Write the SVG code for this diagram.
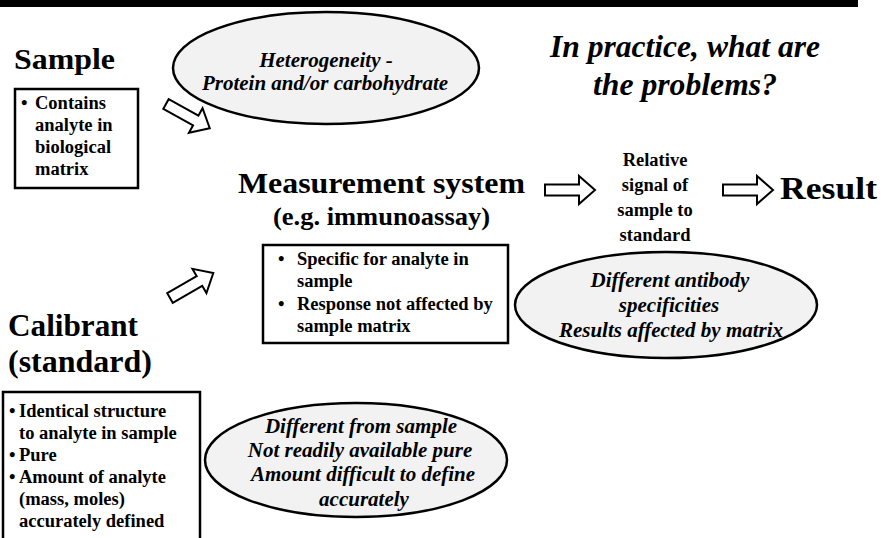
<svg xmlns="http://www.w3.org/2000/svg" width="883" height="538" viewBox="0 0 883 538">
<style>
text{font-family:'Liberation Serif',serif;font-weight:bold;fill:#000}
.b{font-size:18.5px}
.i{font-style:italic;font-size:21px;text-anchor:middle}
.m{text-anchor:middle}
.box{fill:#fff;stroke:#000;stroke-width:2.5}
.ell{fill:#f2f2f2;stroke:#000;stroke-width:2.5}
.arr{fill:#fff;stroke:#000;stroke-width:2}
</style>
<rect x="0" y="0" width="883" height="538" fill="#fff"/>
<rect x="0" y="0" width="858" height="7" fill="#000"/>

<g id="sample">
<text x="14" y="69" font-size="30" textLength="101" lengthAdjust="spacingAndGlyphs">Sample</text>
<rect class="box" x="15" y="89" width="123" height="99"/>
<text class="b" x="21" y="109">•</text>
<text class="b" x="35" y="109">Contains</text>
<text class="b" x="35" y="131">analyte in</text>
<text class="b" x="35" y="153">biological</text>
<text class="b" x="35" y="175">matrix</text>
</g>

<g id="heterogeneity">
<ellipse class="ell" cx="326" cy="68" rx="153" ry="56"/>
<text class="i" x="326" y="67">Heterogeneity -</text>
<text class="i" x="325" y="90">Protein and/or carbohydrate</text>
</g>

<g id="question">
<text class="m" x="685" y="57" font-size="31" font-style="italic" textLength="270" lengthAdjust="spacingAndGlyphs">In practice, what are</text>
<text class="m" x="685" y="95" font-size="31" font-style="italic" textLength="184" lengthAdjust="spacingAndGlyphs">the problems?</text>
</g>

<g id="measurement">
<text x="238" y="193" font-size="30" textLength="287" lengthAdjust="spacingAndGlyphs">Measurement system</text>
<text x="273" y="225" font-size="25" textLength="217" lengthAdjust="spacingAndGlyphs">(e.g. immunoassay)</text>
<rect class="box" x="263" y="245" width="245" height="98"/>
<text class="b" x="278" y="265">•</text>
<text class="b" x="297" y="265">Specific for analyte in</text>
<text class="b" x="297" y="287">sample</text>
<text class="b" x="278" y="310">•</text>
<text class="b" x="297" y="310">Response not affected by</text>
<text class="b" x="297" y="332">sample matrix</text>
</g>

<g id="relative">
<text class="b m" x="655" y="166">Relative</text>
<text class="b m" x="655" y="191">signal of</text>
<text class="b m" x="655" y="216">sample to</text>
<text class="b m" x="655" y="241">standard</text>
</g>

<g id="result">
<text x="780" y="199" font-size="31" textLength="97" lengthAdjust="spacingAndGlyphs">Result</text>
</g>

<g id="antibody">
<ellipse class="ell" cx="666" cy="305" rx="151" ry="53"/>
<text class="i" x="670" y="287">Different antibody</text>
<text class="i" x="669" y="312">specificities</text>
<text class="i" x="671" y="337">Results affected by matrix</text>
</g>

<g id="calibrant">
<text x="8" y="336" font-size="31" textLength="130" lengthAdjust="spacingAndGlyphs">Calibrant</text>
<text x="8" y="372" font-size="31" textLength="144" lengthAdjust="spacingAndGlyphs">(standard)</text>
<rect class="box" x="3" y="392" width="197" height="150"/>
<text class="b" x="9" y="417">•</text>
<text class="b" x="19" y="417">Identical structure</text>
<text class="b" x="19" y="439">to analyte in sample</text>
<text class="b" x="9" y="461">•</text>
<text class="b" x="19" y="461">Pure</text>
<text class="b" x="9" y="483">•</text>
<text class="b" x="19" y="483">Amount of analyte</text>
<text class="b" x="19" y="505">(mass, moles)</text>
<text class="b" x="19" y="527">accurately defined</text>
</g>

<g id="calibrant-problems">
<ellipse class="ell" cx="356" cy="460" rx="151" ry="57"/>
<text class="i" x="361" y="433">Different from sample</text>
<text class="i" x="360" y="457">Not readily available pure</text>
<text class="i" x="363" y="481">Amount difficult to define</text>
<text class="i" x="364" y="506">accurately</text>
</g>

<g id="connectors">
<path class="arr" transform="translate(166,104) rotate(29)" d="M0,-5.5 L34,-5.5 L34,-14 L50,0 L34,14 L34,5.5 L0,5.5 Z"/>
<path class="arr" transform="translate(170,298) rotate(-30)" d="M0,-5.5 L34,-5.5 L34,-14 L50,0 L34,14 L34,5.5 L0,5.5 Z"/>
<path class="arr" transform="translate(545,190)" d="M0,-5.5 L34,-5.5 L34,-14 L50,0 L34,14 L34,5.5 L0,5.5 Z"/>
<path class="arr" transform="translate(723,190)" d="M0,-5.5 L34,-5.5 L34,-14 L50,0 L34,14 L34,5.5 L0,5.5 Z"/>
</g>
</svg>
